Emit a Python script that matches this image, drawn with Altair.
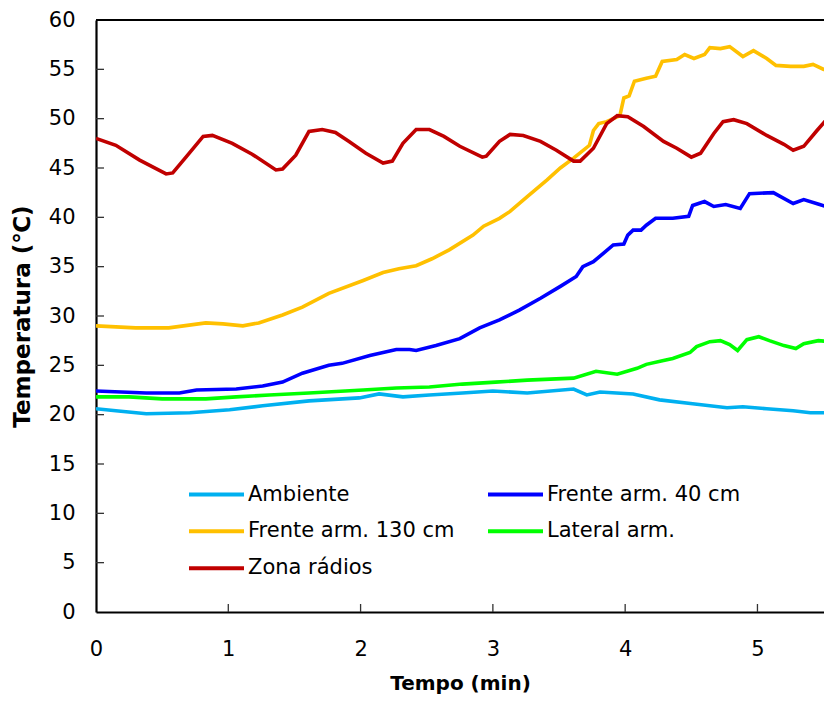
import altair as alt
import pandas as pd

FONT = "DejaVu Sans"

series_names = ["Ambiente", "Frente arm. 40 cm", "Frente arm. 130 cm", "Lateral arm.", "Zona rádios"]
series_colors = ["#00B0F0", "#0000FF", "#FFC000", "#00FF00", "#C00000"]

amb_t = [0, 0.15, 0.38, 0.71, 1.01, 1.26, 1.61, 1.99, 2.14, 2.32, 2.52, 2.77, 3.00, 3.26, 3.61, 3.71, 3.81, 4.06, 4.26, 4.51, 4.77, 4.89, 5.07, 5.27, 5.40, 5.56]
amb_v = [20.6, 20.4, 20.1, 20.2, 20.5, 20.9, 21.4, 21.7, 22.1, 21.8, 22.0, 22.2, 22.4, 22.2, 22.6, 22.0, 22.3, 22.1, 21.5, 21.1, 20.7, 20.8, 20.6, 20.4, 20.2, 20.2]

f40_t = [0, 0.38, 0.63, 0.76, 1.06, 1.26, 1.41, 1.56, 1.76, 1.86, 2.07, 2.27, 2.37, 2.42, 2.57, 2.75, 2.90, 3.05, 3.20, 3.36, 3.51, 3.63, 3.68, 3.76, 3.91, 3.99, 4.02, 4.06, 4.12, 4.16, 4.23, 4.36, 4.48, 4.51, 4.60, 4.67, 4.76, 4.87, 4.94, 5.12, 5.27, 5.35, 5.47, 5.56]
f40_v = [22.4, 22.2, 22.2, 22.5, 22.6, 22.9, 23.3, 24.2, 25.0, 25.2, 26.0, 26.6, 26.6, 26.5, 27.0, 27.7, 28.8, 29.6, 30.6, 31.8, 33.0, 34.0, 35.0, 35.5, 37.2, 37.3, 38.2, 38.7, 38.7, 39.2, 39.9, 39.9, 40.1, 41.2, 41.6, 41.1, 41.3, 40.9, 42.4, 42.5, 41.4, 41.8, 41.3, 40.9]

f130_t = [0, 0.30, 0.55, 0.83, 0.96, 1.11, 1.23, 1.41, 1.56, 1.76, 2.02, 2.17, 2.29, 2.42, 2.54, 2.67, 2.85, 2.93, 3.05, 3.13, 3.26, 3.41, 3.51, 3.61, 3.73, 3.76, 3.80, 3.86, 3.96, 3.99, 4.03, 4.07, 4.16, 4.23, 4.28, 4.39, 4.45, 4.52, 4.60, 4.64, 4.72, 4.79, 4.89, 4.97, 5.07, 5.14, 5.25, 5.35, 5.42, 5.50, 5.56]
f130_v = [29.0, 28.8, 28.8, 29.3, 29.2, 29.0, 29.3, 30.1, 30.9, 32.3, 33.6, 34.4, 34.8, 35.1, 35.8, 36.7, 38.2, 39.1, 39.9, 40.6, 42.1, 43.8, 45.0, 46.0, 47.3, 48.8, 49.5, 49.7, 50.3, 52.1, 52.3, 53.8, 54.1, 54.3, 55.8, 56.0, 56.5, 56.1, 56.5, 57.2, 57.1, 57.3, 56.3, 56.9, 56.1, 55.4, 55.3, 55.3, 55.5, 55.0, 55.0]

lat_t = [0, 0.25, 0.50, 0.63, 0.83, 1.06, 1.31, 1.61, 2.02, 2.27, 2.52, 2.77, 3.02, 3.26, 3.61, 3.78, 3.94, 4.09, 4.16, 4.29, 4.36, 4.49, 4.54, 4.64, 4.72, 4.79, 4.85, 4.92, 5.01, 5.09, 5.20, 5.29, 5.35, 5.46, 5.56]
lat_v = [21.8, 21.8, 21.6, 21.6, 21.6, 21.8, 22.0, 22.2, 22.5, 22.7, 22.8, 23.1, 23.3, 23.5, 23.7, 24.4, 24.1, 24.7, 25.1, 25.5, 25.7, 26.3, 26.9, 27.4, 27.5, 27.1, 26.5, 27.6, 27.9, 27.5, 27.0, 26.7, 27.2, 27.5, 27.4]

zona_t = [0, 0.15, 0.33, 0.53, 0.58, 0.68, 0.81, 0.88, 1.03, 1.18, 1.36, 1.41, 1.51, 1.61, 1.71, 1.81, 1.91, 2.04, 2.17, 2.24, 2.32, 2.42, 2.52, 2.63, 2.75, 2.92, 2.95, 3.05, 3.13, 3.23, 3.36, 3.48, 3.61, 3.66, 3.76, 3.86, 3.94, 4.02, 4.14, 4.29, 4.39, 4.50, 4.57, 4.67, 4.74, 4.82, 4.92, 5.07, 5.20, 5.27, 5.35, 5.45, 5.56]
zona_v = [48.0, 47.3, 45.8, 44.4, 44.5, 46.1, 48.2, 48.3, 47.5, 46.4, 44.8, 44.9, 46.3, 48.7, 48.9, 48.6, 47.7, 46.5, 45.5, 45.7, 47.5, 48.9, 48.9, 48.2, 47.2, 46.1, 46.2, 47.7, 48.4, 48.3, 47.7, 46.8, 45.7, 45.7, 47.0, 49.5, 50.3, 50.2, 49.2, 47.7, 47.0, 46.1, 46.5, 48.5, 49.7, 49.9, 49.5, 48.3, 47.4, 46.8, 47.2, 48.8, 50.5]

x_ticks = [1, 2, 3, 4, 5]
y_ticks = [5, 10, 15, 20, 25, 30, 35, 40, 45, 50, 55]

rows = []
for name, ts, vs in zip(series_names,
                        [amb_t, f40_t, f130_t, lat_t, zona_t],
                        [amb_v, f40_v, f130_v, lat_v, zona_v]):
    for t, v in zip(ts, vs):
        rows.append({"series": name, "t": t, "T": v})
df = pd.DataFrame(rows)
order_map = {n: i for i, n in enumerate(series_names)}
df["ord"] = df["series"].map(order_map)

x_scale = alt.Scale(domain=[0, 5.503], nice=False, zero=False)
y_scale = alt.Scale(domain=[0, 60], nice=False)

lines = alt.Chart(df).mark_line(strokeWidth=3.6, clip=True).encode(
    x=alt.X("t:Q", scale=x_scale,
            axis=alt.Axis(values=[0, 1, 2, 3, 4, 5], title="Tempo (min)", format="d")),
    y=alt.Y("T:Q", scale=y_scale,
            axis=alt.Axis(values=list(range(0, 61, 5)), title="Temperatura (℃)")),
    color=alt.Color("series:N", scale=alt.Scale(domain=series_names, range=series_colors),
                    sort=series_names, legend=alt.Legend(title=None)),
    detail="series:N",
    order=alt.Order("ord:Q"),
)

top_border = alt.Chart(pd.DataFrame({"v": [60]})).mark_rule(color="black", strokeWidth=2).encode(
    y=alt.Y("v:Q", scale=y_scale)
)

ytick_df = pd.DataFrame({"v": y_ticks})
yticks = alt.Chart(ytick_df).mark_rule(color="#333333", strokeWidth=1.3).encode(
    y=alt.Y("v:Q", scale=y_scale),
    x=alt.value(0),
    x2=alt.value(8),
)

xtick_df = pd.DataFrame({"v": x_ticks})
xticks = alt.Chart(xtick_df).mark_rule(color="#333333", strokeWidth=1.3).encode(
    x=alt.X("v:Q", scale=x_scale),
    y=alt.value(592),
    y2=alt.value(584),
)

chart = alt.layer(top_border, yticks, xticks, lines).properties(
    width=728,
    height=592,
    autosize=alt.AutoSizeParams(type="none"),
    padding={"left": 88, "top": 12, "right": 0, "bottom": 82},
).configure_view(
    stroke=None
).configure_axis(
    domainColor="black",
    domainWidth=2.2,
    ticks=False,
    tickSize=0,
    grid=False,
    labelFlush=False,
    labelFont=FONT,
    labelFontSize=21,
    labelColor="black",
    titleFont=FONT,
    titleFontSize=20,
    titleFontWeight="bold",
    titleColor="black",
).configure_axisY(
    labelPadding=21,
    titlePadding=14,
    titleFontSize=23,
).configure_axisX(
    labelPadding=26,
    titlePadding=14,
).configure_legend(
    orient="none",
    legendX=91,
    legendY=456,
    direction="horizontal",
    columns=2,
    columnPadding=31,
    rowPadding=0,
    clipHeight=36.5,
    labelFont=FONT,
    labelFontSize=21,
    labelColor="black",
    labelOffset=2,
    labelLimit=400,
    symbolType="stroke",
    symbolSize=3025,
    symbolStrokeWidth=4,
    padding=0,
    gridAlign="each",
)

chart.save("out.html", embed_options={"renderer": "svg", "actions": False})
